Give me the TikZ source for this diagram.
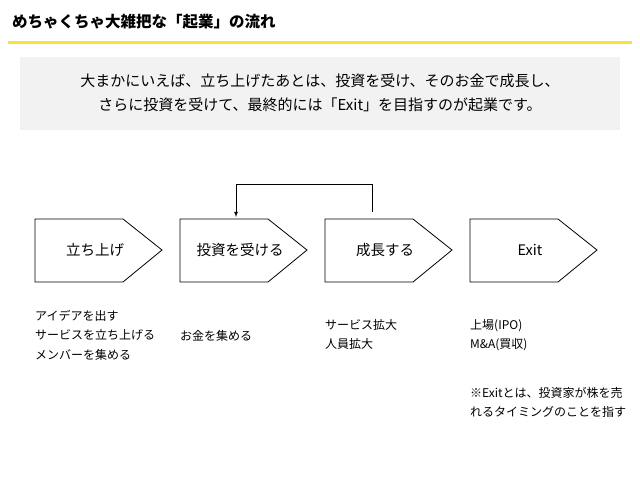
\documentclass[tikz,border=0pt]{standalone}
\usepackage{fontspec}
\setmainfont{Noto Sans CJK JP}
\begin{document}
\begin{tikzpicture}[x=1pt,y=-1pt,
  pent/.style={draw=black,line width=0.8pt,fill=white},
  lbl/.style={font=\fontsize{14.5}{16}\selectfont,inner sep=0pt},
  note/.style={font=\fontsize{12}{19.5}\selectfont,align=left,anchor=north west,inner sep=0pt}]
\useasboundingbox (0,0) rectangle (640,480);
\fill[white] (0,0) rectangle (640,480);
\node[anchor=west,font=\fontsize{15.5}{17}\selectfont\bfseries,inner sep=0pt] (title) at (12,22) {めちゃくちゃ大雑把な「起業」の流れ};
\draw[line width=3pt,color={rgb,255:red,250;green,225;blue,60}] (8,42) -- (632,42);
\fill[color={rgb,255:red,242;green,242;blue,243}] (20,57) rectangle (620,130);
\node[align=center,font=\fontsize{15}{24}\selectfont,inner sep=0pt] (intro) at (320,93) {大まかにいえば、立ち上げたあとは、投資を受け、そのお金で成長し、\\さらに投資を受けて、最終的には「Exit」を目指すのが起業です。};
\foreach \i/\t/\n in {0/立ち上げ/a,1/投資を受ける/b,2/成長する/c,3/Exit/d}{
  \pgfmathsetmacro\L{35+145*\i}
  \draw[pent] (\L,219) -- (\L+88,219) -- (\L+127,250) -- (\L+88,282) -- (\L,282) -- cycle;
  \node[lbl] (\n) at (\L+60,250) {\t};
}
\coordinate (fs) at (372,212);
\coordinate (fe) at (236,217);
\draw[line width=0.8pt,-latex] (fs) -- (372,184) -- (236,184) -- (fe);
\node[note] (n1) at (35,310) {アイデアを出す\\サービスを立ち上げる\\メンバーを集める};
\node[note] (n2) at (180,330) {お金を集める};
\node[note] (n3) at (325,319) {サービス拡大\\人員拡大};
\node[note] (n4) at (470,319) {上場(IPO)\\M\&A(買収)};
\node[note] (n5) at (470,387) {※Exitとは、投資家が株を売\\れるタイミングのことを指す};
\end{tikzpicture}
\end{document}
